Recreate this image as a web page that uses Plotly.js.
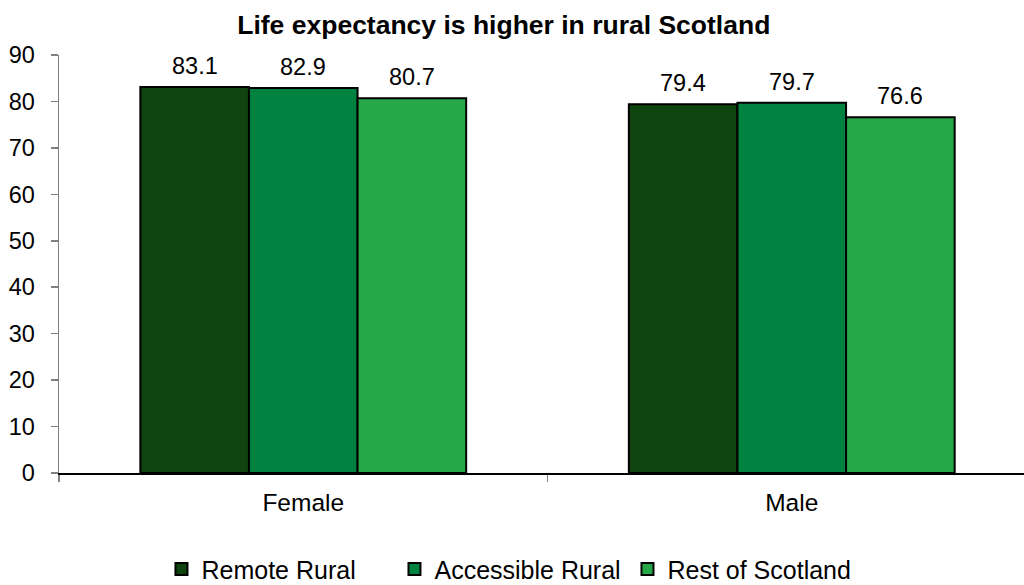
<!DOCTYPE html>
<html>
<head>
<meta charset="utf-8">
<script src="https://cdn.plot.ly/plotly-3.0.1.min.js"></script>
<style>html,body{margin:0;padding:0;background:#fff;}#chart{width:1024px;height:585px;}</style>
</head>
<body>
<div id="chart"></div>
<script>
const categories = ["Female", "Male"];
const seriesNames = ["Remote Rural", "Accessible Rural", "Rest of Scotland"];
const remoteRural = [83.1, 79.4];
const accessibleRural = [82.9, 79.7];
const restOfScotland = [80.7, 76.6];
const seriesColors = ["#10440f", "#008240", "#27a848"];
const yTicks = [0, 10, 20, 30, 40, 50, 60, 70, 80, 90];

const FONT = "Arial, 'Liberation Sans', sans-serif";
const allValues = [remoteRural, accessibleRural, restOfScotland];

const traces = allValues.map((vals, i) => ({
  type: "bar",
  name: seriesNames[i],
  x: categories,
  y: vals,
  marker: { color: seriesColors[i], line: { color: "#000000", width: 2 } },
  hoverinfo: "skip"
}));

const nSeries = allValues.length;
const groupWidth = 1 - 0.333;
const barW = groupWidth / nSeries;
const annotations = [];
allValues.forEach((vals, i) => {
  vals.forEach((v, j) => {
    annotations.push({
      x: j - groupWidth / 2 + barW * (i + 0.5),
      y: v,
      xref: "x", yref: "y",
      text: v.toFixed(1),
      showarrow: false,
      yanchor: "bottom",
      yshift: 6,
      font: { family: FONT, size: 23.5, color: "#000" }
    });
  });
});

const layout = {
  width: 1024, height: 585,
  paper_bgcolor: "#fff", plot_bgcolor: "#fff",
  margin: { l: 59, r: 0, t: 55, b: 112 },
  barmode: "group",
  bargap: 0.333,
  bargroupgap: 0,
  title: {
    text: "<b>Life expectancy is higher in rural Scotland</b>",
    font: { family: FONT, size: 26.5, color: "#000" },
    xref: "container", x: 0.492, xanchor: "center",
    yref: "container", y: 0.957, yanchor: "middle"
  },
  xaxis: {
    type: "category",
    range: [-0.5, 1.4754],
    showline: true, linecolor: "#000", linewidth: 1.5,
    ticks: "outside", tickson: "boundaries", ticklen: 7, tickcolor: "#808080", tickwidth: 1.5,
    ticklabelstandoff: 7,
    showgrid: false, zeroline: false,
    tickfont: { family: FONT, size: 24.5, color: "#000" }
  },
  yaxis: {
    range: [0, 90],
    tickvals: yTicks,
    showline: true, linecolor: "#808080", linewidth: 1.5,
    ticks: "outside", ticklen: 7, tickcolor: "#808080", tickwidth: 1.5,
    ticklabelstandoff: 11,
    showgrid: false, zeroline: false,
    tickfont: { family: FONT, size: 23.5, color: "#000" }
  },
  showlegend: true,
  legend: {
    orientation: "h",
    x: 0.499, xref: "container", xanchor: "center",
    y: 0.027, yref: "container", yanchor: "middle",
    font: { family: FONT, size: 25, color: "#000" },
    itemwidth: 30,
    entrywidth: 188,
    traceorder: "normal"
  },
  annotations: annotations
};

Plotly.newPlot("chart", traces, layout, { staticPlot: true, displayModeBar: false });
</script>
</body>
</html>
